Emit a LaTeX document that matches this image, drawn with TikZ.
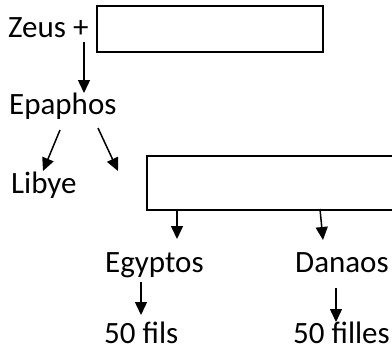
\documentclass[tikz,border=0pt]{standalone}
\usepackage{fontspec}
\setmainfont{Carlito}
\usetikzlibrary{arrows.meta}

\tikzset{
  person/.style={anchor=base west, inner sep=0pt, font=\fontsize{31}{36}\selectfont},
  emptybox/.style={draw, line width=1.5pt, inner sep=0pt, anchor=north west},
  link/.style={line width=1.5pt, -{Triangle[width=12pt,length=13pt]}}
}

\begin{document}
\begin{tikzpicture}[x=1pt, y=-1pt]
    \clip (0,0) rectangle (392,351);

    % draw names
    \node[person] (zeus) at (8,37) {Zeus +};
    \node[person] (epaphos) at (9,114) {Epaphos};
    \node[person] (libye) at (11,193) {Libye};
    \node[person] (egyptos) at (105,272) {Egyptos};
    \node[person] (danaos) at (295,272) {Danaos};
    \node[person] (fils) at (104,343) {50 fils};
    \node[person] (filles) at (293,343) {50 filles};

    % draw empty boxes
    \node[emptybox, minimum width=226pt, minimum height=46pt] (wife) at (96,5) {};
    \node[emptybox, minimum width=270pt, minimum height=54pt] (sons) at (146,155) {};

    % arrow ends
    \coordinate (a1) at (84,42);   \coordinate (b1) at (84,93);
    \coordinate (a2) at (60,130);  \coordinate (b2) at (43,171);
    \coordinate (a3) at (98,128);  \coordinate (b3) at (118,171);
    \coordinate (a4) at (177,209); \coordinate (b4) at (177,239);
    \coordinate (a5) at (320,209); \coordinate (b5) at (323,240);
    \coordinate (a6) at (141,282); \coordinate (b6) at (141,315);
    \coordinate (a7) at (336,288); \coordinate (b7) at (336,322);

    % draw arrows
    \draw[link] (a1) -- (b1);
    \draw[link] (a2) -- (b2);
    \draw[link] (a3) -- (b3);
    \draw[link] (a4) -- (b4);
    \draw[link] (a5) -- (b5);
    \draw[link] (a6) -- (b6);
    \draw[link] (a7) -- (b7);
\end{tikzpicture}
\end{document}
